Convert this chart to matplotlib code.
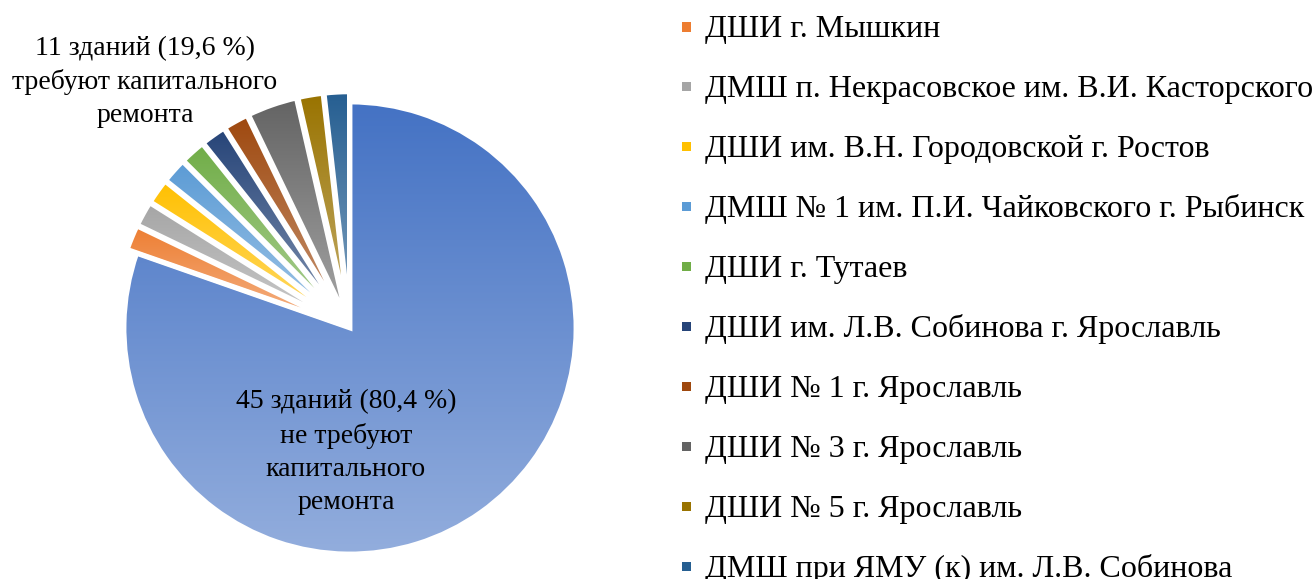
import numpy as np
import matplotlib.pyplot as plt
from matplotlib.colors import to_rgb
from matplotlib.patches import Rectangle

# здания, требующие капитального ремонта (по школам)
school_names = [
    "ДШИ г. Мышкин",
    "ДМШ п. Некрасовское им. В.И. Касторского",
    "ДШИ им. В.Н. Городовской г. Ростов",
    "ДМШ № 1 им. П.И. Чайковского г. Рыбинск",
    "ДШИ г. Тутаев",
    "ДШИ им. Л.В. Собинова г. Ярославль",
    "ДШИ № 1 г. Ярославль",
    "ДШИ № 3 г. Ярославль",
    "ДШИ № 5 г. Ярославль",
    "ДМШ при ЯМУ (к) им. Л.В. Собинова",
]
school_counts = [1, 1, 1, 1, 1, 1, 1, 2, 1, 1]
school_colors = ["#ED7D31", "#A5A5A5", "#FFC000", "#5B9BD5", "#70AD47",
                 "#264478", "#9E480E", "#636363", "#997300", "#255E91"]

ok_count = 45
ok_color = "#4472C4"

plt.rcParams['font.family'] = ['Liberation Serif', 'DejaVu Serif']

W, H = 1315, 579
fig = plt.figure(figsize=(W / 100, H / 100), dpi=100)

# pie: centre (350, 328) px, radius 226 px
R = 226
half = 1.2 * R
cx, cy = 350, H - 328
ax = fig.add_axes([(cx - half) / W, (cy - half) / H, 2 * half / W, 2 * half / H])

values = [ok_count] + school_counts
colors = [ok_color] + school_colors
explode = [0] + [0.045] * len(school_counts)
wedges, _ = ax.pie(values, colors=colors, startangle=90, counterclock=False,
                   explode=explode,
                   wedgeprops=dict(edgecolor='white', linewidth=3.5))


def tint(c, k):
    c = np.array(to_rgb(c))
    return c + (1 - c) * k


# vertical gradient inside every slice (dark on top, lighter at bottom)
for w, col in zip(wedges, colors):
    ext = w.get_path().get_extents()
    t = np.linspace(0, 1, 256)[:, None]
    grad = tint(col, 0) * (1 - t) + tint(col, 0.42) * t
    im = ax.imshow(grad[:, None, :], extent=[ext.x0, ext.x1, ext.y0, ext.y1],
                   origin='upper', aspect='auto', zorder=1,
                   interpolation='bilinear')
    im.set_clip_path(w)
    w.set_facecolor('none')
    w.set_zorder(2)

ax.set_xlim(-1.2, 1.2)
ax.set_ylim(-1.2, 1.2)
ax.set_aspect('equal')
ax.axis('off')

total = ok_count + sum(school_counts)
repair = sum(school_counts)
pct_repair = f"{100 * repair / total:.1f}".replace('.', ',')
pct_ok = f"{100 * ok_count / total:.1f}".replace('.', ',')

fig.text(145 / W, 1 - 82 / H,
         f"{repair} зданий ({pct_repair} %)\nтребуют капитального\nремонта",
         ha='center', va='center', fontsize=20, linespacing=1.42)
fig.text(346 / W, 1 - 452 / H,
         f"{ok_count} зданий ({pct_ok} %)\nне требуют\nкапитального\nремонта",
         ha='center', va='center', fontsize=20, linespacing=1.42)

# legend
base0, step = 37.5, 59.9
for i, (name, col) in enumerate(zip(school_names, school_colors)):
    yb = base0 + i * step
    ym = yb - 10.5
    fig.add_artist(Rectangle(((686 - 4.5) / W, 1 - (ym + 4.5) / H), 9 / W, 9 / H,
                             transform=fig.transFigure, facecolor=col,
                             edgecolor='none'))
    fig.text(705 / W, 1 - yb / H, name, ha='left', va='baseline',
             fontsize=23)

fig.savefig("out.png", dpi=100)
